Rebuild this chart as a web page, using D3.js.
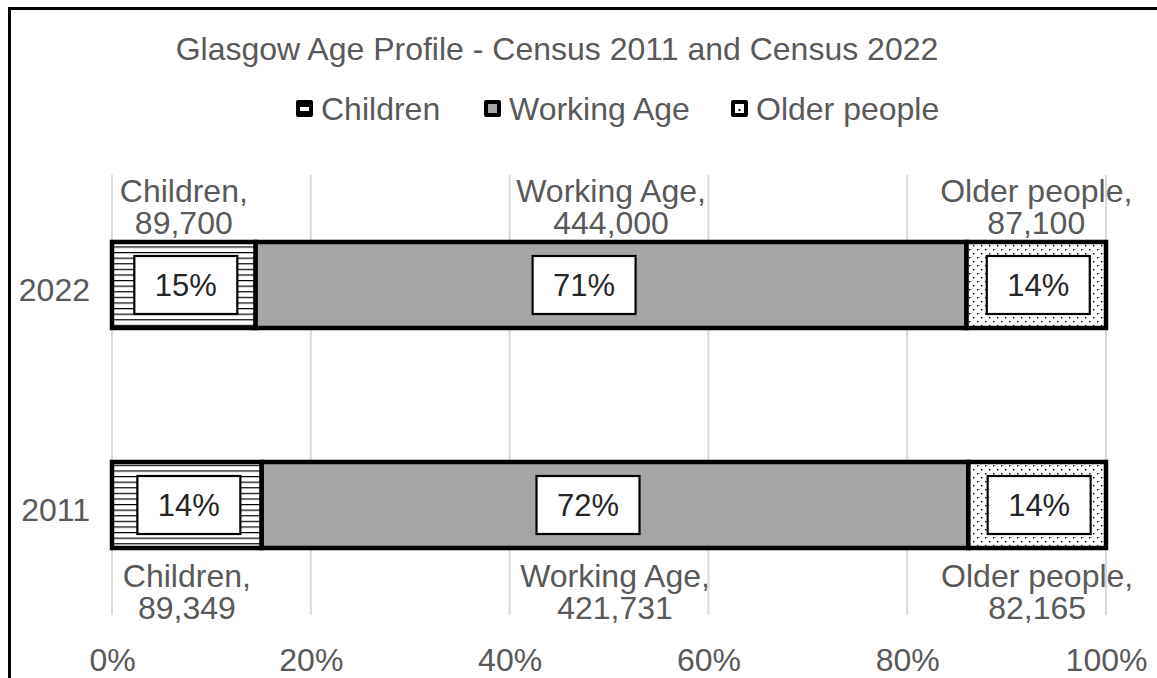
<!DOCTYPE html>
<html>
<head>
<meta charset="utf-8">
<script src="https://cdn.jsdelivr.net/npm/d3@7/dist/d3.min.js"></script>
<style>
  html, body { margin: 0; padding: 0; background: #fff; }
  svg { display: block; font-family: "Liberation Sans", Arial, sans-serif; }
</style>
</head>
<body>
<svg id="chart" width="1157" height="678"></svg>
<script>
// Census years (top to bottom) and population by age group
const years = ["2022", "2011"];
const groups = ["Children", "Working Age", "Older people"];
const children = [89700, 89349];
const workingAge = [444000, 421731];
const olderPeople = [87100, 82165];
// Percentage labels printed inside each segment
const pctChildren = ["15%", "14%"];
const pctWorking = ["71%", "72%"];
const pctOlder = ["14%", "14%"];
const xTicks = [0, 0.2, 0.4, 0.6, 0.8, 1];
const title = "Glasgow Age Profile - Census 2011 and Census 2022";

const svg = d3.select("#chart");
const W = 1157, H = 678;
const grey = "#595959";
const fs = 32;

// patterns for the segment fills
const defs = svg.append("defs");
const stripes = defs.append("pattern").attr("id", "stripes")
  .attr("patternUnits", "userSpaceOnUse").attr("width", 8).attr("height", 5.6);
stripes.append("rect").attr("width", 8).attr("height", 5.6).attr("fill", "#fff");
stripes.append("rect").attr("y", 0).attr("width", 8).attr("height", 1.2).attr("fill", "#000");

const dots = defs.append("pattern").attr("id", "dots")
  .attr("patternUnits", "userSpaceOnUse").attr("width", 8).attr("height", 8);
dots.append("rect").attr("width", 8).attr("height", 8).attr("fill", "#fff");
dots.append("rect").attr("x", 1).attr("y", 1).attr("width", 1.4).attr("height", 1.4).attr("fill", "#000");
dots.append("rect").attr("x", 5).attr("y", 5).attr("width", 1.4).attr("height", 1.4).attr("fill", "#000");

const fills = { "Children": "url(#stripes)", "Working Age": "#a6a6a6", "Older people": "url(#dots)" };

// chart frame
svg.append("rect").attr("x", 9.5).attr("y", 8.5).attr("width", W + 20).attr("height", H + 20)
  .attr("fill", "#fff").attr("stroke", "#000").attr("stroke-width", 3);

// scales
const x = d3.scaleLinear().domain([0, 1]).range([112, 1106]);
const y = d3.scaleBand().domain(years).range([175, 615]).paddingInner(0.609).paddingOuter(0.3045);

// rows with shares computed from the counts
const rows = years.map((yr, i) => {
  const vals = [children[i], workingAge[i], olderPeople[i]];
  const total = d3.sum(vals);
  let acc = 0;
  const segs = vals.map((v, j) => {
    const s = { year: yr, group: groups[j], value: v, x0: acc / total };
    acc += v;
    s.x1 = acc / total;
    return s;
  });
  return { year: yr, segs };
});

// title
svg.append("text").attr("x", 557).attr("y", 59.5).attr("text-anchor", "middle")
  .attr("font-size", fs).attr("fill", grey).text(title);

// legend
const legendItems = [
  { name: "Children", mx: 296 },
  { name: "Working Age", mx: 484 },
  { name: "Older people", mx: 731 }
];
const lg = svg.append("g");
legendItems.forEach(d => {
  const g = lg.append("g").attr("transform", `translate(${d.mx},100)`);
  g.append("rect").attr("width", 17).attr("height", 17).attr("rx", 2).attr("fill", "#000");
  if (d.name === "Children") {
    g.append("rect").attr("x", 4).attr("y", 7).attr("width", 9).attr("height", 4).attr("fill", "#fff");
  } else if (d.name === "Working Age") {
    g.append("rect").attr("x", 4).attr("y", 4).attr("width", 9).attr("height", 9).attr("fill", "#a6a6a6");
  } else {
    g.append("rect").attr("x", 4).attr("y", 4).attr("width", 9).attr("height", 9).attr("fill", "#fff");
    g.append("rect").attr("x", 7.5).attr("y", 9).attr("width", 2).attr("height", 2).attr("fill", "#000");
  }
  g.append("text").attr("x", 25).attr("y", 19.5).attr("font-size", fs).attr("fill", grey).text(d.name);
});

// vertical gridlines
svg.append("g").selectAll("line").data(xTicks).join("line")
  .attr("x1", d => x(d)).attr("x2", d => x(d))
  .attr("y1", 175).attr("y2", 615)
  .attr("stroke", "#d9d9d9").attr("stroke-width", 2);

// x axis tick labels
const xAxis = d3.axisBottom(x).tickValues(xTicks).tickFormat(d3.format(".0%")).tickSize(0).tickPadding(0);
const xg = svg.append("g").attr("transform", "translate(0,648)").call(xAxis);
xg.select(".domain").remove();
xg.selectAll("text").attr("font-size", fs).attr("fill", grey).attr("font-family", "Liberation Sans, Arial, sans-serif");

// y axis category labels
const yAxis = d3.axisLeft(y).tickSize(0).tickPadding(0);
const yg = svg.append("g").attr("transform", "translate(90,0)").call(yAxis);
yg.select(".domain").remove();
yg.selectAll("text").attr("font-size", fs).attr("fill", grey).attr("font-family", "Liberation Sans, Arial, sans-serif").attr("dy", "0.5em");

// bar segments
const bars = svg.append("g").selectAll("g").data(rows).join("g");
bars.selectAll("rect").data(d => d.segs).join("rect")
  .attr("x", d => x(d.x0)).attr("width", d => x(d.x1) - x(d.x0))
  .attr("y", d => y(d.year)).attr("height", y.bandwidth())
  .attr("fill", d => fills[d.group])
  .attr("stroke", "#000").attr("stroke-width", 4.5);

// inner percentage boxes
const pctText = { "Children": pctChildren, "Working Age": pctWorking, "Older people": pctOlder };
const workingLabelShift = -27;
const boxW = 103, boxH = 58;
rows.forEach((r, i) => {
  r.segs.forEach(s => {
    const cx = (x(s.x0) + x(s.x1)) / 2 + (s.group === "Working Age" ? workingLabelShift : 2);
    const cy = y(s.year) + y.bandwidth() / 2;
    svg.append("rect").attr("x", cx - boxW / 2).attr("y", cy - boxH / 2)
      .attr("width", boxW).attr("height", boxH)
      .attr("fill", "#fff").attr("stroke", "#000").attr("stroke-width", 2.2);
    svg.append("text").attr("x", cx).attr("y", cy + 11).attr("text-anchor", "middle")
      .attr("font-size", 31).attr("fill", "#262626").text(pctText[s.group][i]);
  });
});

// count labels above the 2022 bar and below the 2011 bar
const fmt = d3.format(",");
rows.forEach((r, i) => {
  const above = i === 0;
  r.segs.forEach(s => {
    const cx = (x(s.x0) + x(s.x1)) / 2;
    const b1 = above ? y(s.year) - 39.5 : y(s.year) + y.bandwidth() + 38.5;
    const t = svg.append("text").attr("text-anchor", "middle").attr("font-size", fs).attr("fill", grey);
    t.append("tspan").attr("x", cx).attr("y", b1).text(s.group + ",");
    t.append("tspan").attr("x", cx).attr("y", b1 + 32).text(fmt(s.value));
  });
});
</script>
</body>
</html>
